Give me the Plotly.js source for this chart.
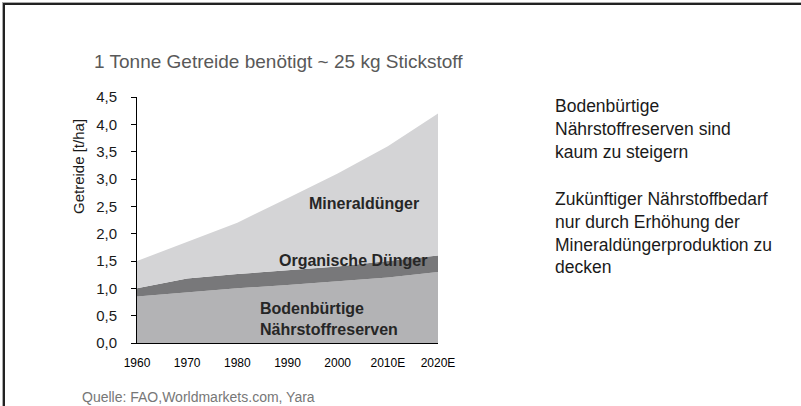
<!DOCTYPE html>
<html>
<head>
<meta charset="utf-8">
<script src="https://cdn.plot.ly/plotly-3.0.1.min.js"></script>
<style>
html,body{margin:0;padding:0;background:#fff;}
#wrap{position:relative;width:801px;height:406px;overflow:hidden;}
#chart{position:absolute;left:0;top:0;width:801px;height:406px;}
#frame{position:absolute;left:3px;top:3px;width:810px;height:420px;border-left:2px solid #222;border-top:2px solid #222;box-shadow:-1px -1px 0 #aaa;pointer-events:none;}
</style>
</head>
<body>
<div id="wrap"><div id="chart"></div><div id="frame"></div></div>
<script>
const years = [1960, 1970, 1980, 1990, 2000, 2010, 2020];
const yearLabels = ['1960', '1970', '1980', '1990', '2000', '2010E', '2020E'];
const boden = [0.85, 0.93, 1.00, 1.06, 1.13, 1.20, 1.30];
const organisch = [0.15, 0.25, 0.26, 0.27, 0.27, 0.30, 0.30];
const mineral = [0.50, 0.67, 0.94, 1.32, 1.70, 2.10, 2.60];
const yTicks = [0, 0.5, 1, 1.5, 2, 2.5, 3, 3.5, 4, 4.5];

const base = {x: years, type: 'scatter', mode: 'lines', stackgroup: 'one', line: {width: 0}, hoverinfo: 'skip', showlegend: false};
const traces = [
  Object.assign({}, base, {y: boden, fillcolor: '#b3b3b5', name: 'Bodenbürtige Nährstoffreserven'}),
  Object.assign({}, base, {y: organisch, fillcolor: '#78787a', name: 'Organische Dünger'}),
  Object.assign({}, base, {y: mineral, fillcolor: '#d4d4d6', name: 'Mineraldünger'})
];

const F = 'Arial, "Liberation Sans", sans-serif';
const W = 301, H = 246, L = 137, T = 97;
const px = v => (v - L) / W;
const py = v => (T + H - v) / H;
const rightText = (txt, yTop) => ({xref: 'paper', yref: 'paper', x: px(553), y: py(yTop), xanchor: 'left', yanchor: 'top', align: 'left', showarrow: false, text: txt, font: {family: F, size: 17.5, color: '#1a1a1a'}});

const layout = {
  width: 801, height: 406,
  margin: {l: L, r: 801 - L - W, t: T, b: 406 - T - H},
  paper_bgcolor: '#fff', plot_bgcolor: '#fff',
  separators: ',.',
  font: {family: F, color: '#1a1a1a'},
  showlegend: false,
  xaxis: {
    type: 'linear', range: [1960, 2020],
    tickvals: years, ticktext: yearLabels,
    showgrid: false, zeroline: false,
    showline: true, linecolor: '#000', linewidth: 1,
    ticks: '', ticklabelstandoff: 9, tickfont: {family: F, size: 12, color: '#000'}
  },
  yaxis: {
    range: [0, 4.5], tickvals: yTicks, tickformat: '.1f',
    showgrid: false, zeroline: false,
    showline: true, linecolor: '#000', linewidth: 1,
    ticks: 'outside', ticklen: 5, tickcolor: '#000', ticklabelstandoff: 11,
    tickfont: {family: F, size: 15, color: '#1a1a1a'}
  },
  annotations: [
    {xref: 'paper', yref: 'paper', x: px(92), y: py(61), xanchor: 'left', yanchor: 'middle', showarrow: false,
     text: '1 Tonne Getreide benötigt ~ 25 kg Stickstoff', font: {family: F, size: 19, color: '#595959'}},
    {xref: 'paper', yref: 'paper', x: px(78), y: py(167), xanchor: 'center', yanchor: 'middle', textangle: -90, showarrow: false,
     text: 'Getreide [t/ha]', font: {family: F, size: 15, color: '#1a1a1a'}},
    {xref: 'paper', yref: 'paper', x: px(364), y: py(203), xanchor: 'center', yanchor: 'middle', showarrow: false,
     text: '<b>Mineraldünger</b>', font: {family: F, size: 16, color: '#262626'}},
    {xref: 'paper', yref: 'paper', x: px(353), y: py(260), xanchor: 'center', yanchor: 'middle', showarrow: false,
     text: '<b>Organische Dünger</b>', font: {family: F, size: 16, color: '#262626'}},
    {xref: 'paper', yref: 'paper', x: px(258), y: py(319), xanchor: 'left', yanchor: 'middle', showarrow: false, align: 'left',
     text: '<b>Bodenbürtige<br>Nährstoffreserven</b>', font: {family: F, size: 16, color: '#262626'}},
    rightText('Bodenbürtige<br>Nährstoffreserven sind<br>kaum zu steigern', 94),
    rightText('Zukünftiger Nährstoffbedarf<br>nur durch Erhöhung der<br>Mineraldüngerproduktion zu<br>decken', 187),
    {xref: 'paper', yref: 'paper', x: px(80), y: py(397), xanchor: 'left', yanchor: 'middle', showarrow: false,
     text: 'Quelle: FAO,Worldmarkets.com, Yara', font: {family: F, size: 14, color: '#777'}}
  ]
};

Plotly.newPlot('chart', traces, layout, {staticPlot: true, displayModeBar: false});
</script>
</body>
</html>
